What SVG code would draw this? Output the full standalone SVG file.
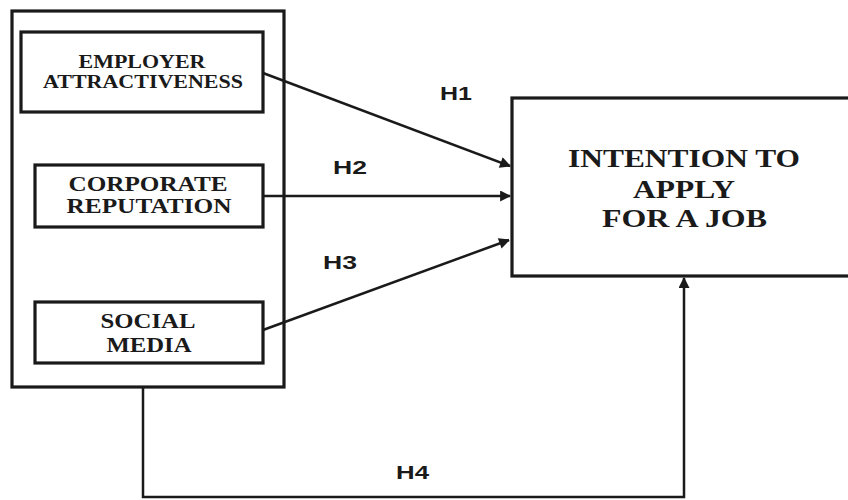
<svg xmlns="http://www.w3.org/2000/svg" width="848" height="500" viewBox="0 0 848 500">
<style>
.box{fill:#fff;stroke:#1a1a1a;stroke-width:3.2}
.lbl{font-family:"Liberation Serif","Times New Roman",serif;font-weight:bold;fill:#1a1a1a;text-anchor:middle}
.h{font-family:"Liberation Sans",Arial,sans-serif;font-weight:bold;font-size:19px;fill:#1a1a1a;text-anchor:middle}
.con{fill:none;stroke:#1a1a1a;stroke-width:2.5}
</style>
<defs>
<marker id="arr" viewBox="0 0 10 10" refX="9" refY="5" markerWidth="5" markerHeight="4.4" orient="auto" markerUnits="strokeWidth">
<path d="M0,0 L10,5 L0,10 z" fill="#1a1a1a"/>
</marker>
</defs>
<rect width="848" height="500" fill="#fff"/>
<g id="group-box"><rect class="box" x="12" y="11" width="272" height="376"/></g>
<g id="employer">
<rect class="box" x="21" y="32" width="242" height="80"/>
<text class="lbl" x="142" y="68" font-size="19" textLength="127" lengthAdjust="spacingAndGlyphs">EMPLOYER</text>
<text class="lbl" x="143" y="88" font-size="19" textLength="200" lengthAdjust="spacingAndGlyphs">ATTRACTIVENESS</text>
</g>
<g id="corporate">
<rect class="box" x="35" y="165" width="228" height="62"/>
<text class="lbl" x="148" y="191" font-size="21" textLength="159" lengthAdjust="spacingAndGlyphs">CORPORATE</text>
<text class="lbl" x="149" y="213" font-size="21" textLength="165" lengthAdjust="spacingAndGlyphs">REPUTATION</text>
</g>
<g id="social">
<rect class="box" x="35" y="302" width="228" height="61"/>
<text class="lbl" x="148" y="328" font-size="22" textLength="95" lengthAdjust="spacingAndGlyphs">SOCIAL</text>
<text class="lbl" x="149" y="352" font-size="22" textLength="85" lengthAdjust="spacingAndGlyphs">MEDIA</text>
</g>
<g id="intention">
<rect class="box" x="512" y="98" width="350" height="178"/>
<text class="lbl" x="684" y="167" font-size="25" textLength="232" lengthAdjust="spacingAndGlyphs">INTENTION TO</text>
<text class="lbl" x="684" y="198" font-size="25" textLength="102" lengthAdjust="spacingAndGlyphs">APPLY</text>
<text class="lbl" x="684.5" y="227" font-size="25" textLength="165" lengthAdjust="spacingAndGlyphs">FOR A JOB</text>
</g>
<g id="connectors">
<line class="con" x1="263" y1="73" x2="510" y2="166" marker-end="url(#arr)"/>
<line class="con" x1="263" y1="196" x2="510" y2="196" marker-end="url(#arr)"/>
<line class="con" x1="263" y1="330" x2="509" y2="240" marker-end="url(#arr)"/>
<path class="con" d="M143 387 V497 H684 V278" marker-end="url(#arr)"/>
<text class="h" x="456" y="100" textLength="32" lengthAdjust="spacingAndGlyphs">H1</text>
<text class="h" x="350" y="174" textLength="34" lengthAdjust="spacingAndGlyphs">H2</text>
<text class="h" x="340" y="269" textLength="34" lengthAdjust="spacingAndGlyphs">H3</text>
<text class="h" x="412.5" y="479" textLength="33" lengthAdjust="spacingAndGlyphs">H4</text>
</g>
</svg>
